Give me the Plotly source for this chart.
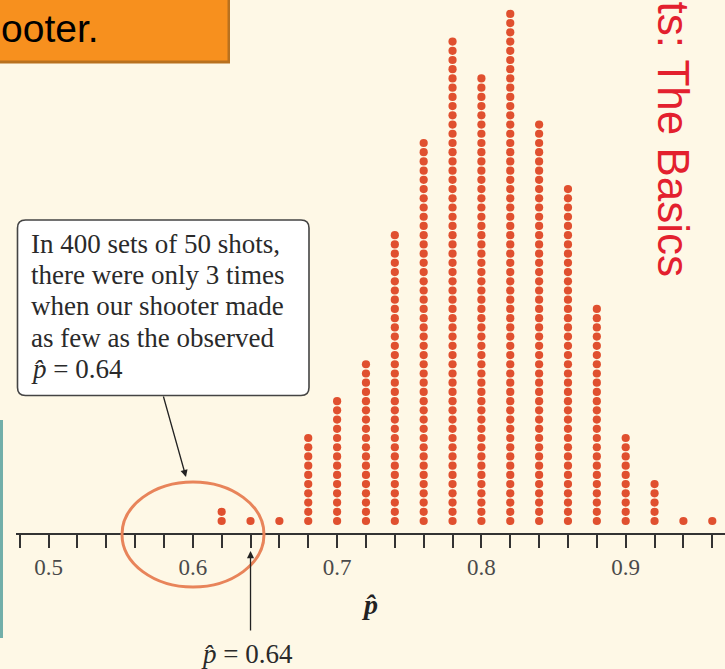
import plotly.graph_objects as go

# ---- data ----
phat_values = [0.62, 0.64, 0.66, 0.68, 0.70, 0.72, 0.74, 0.76, 0.78,
               0.80, 0.82, 0.84, 0.86, 0.88, 0.90, 0.92, 0.94, 0.96]
counts = [2, 1, 1, 10, 14, 18, 32, 42, 53, 49, 56, 44, 37, 24, 10, 5, 1, 1]
label_ticks = [0.5, 0.6, 0.7, 0.8, 0.9]
label_text = ["0.5", "0.6", "0.7", "0.8", "0.9"]
callout_lines = ["In 400 sets of 50 shots,",
                 "there were only 3 times",
                 "when our shooter made",
                 "as few as the observed",
                 "<i>p\u0302</i> = 0.64"]
observed = 0.64

W, H = 725, 669
BG = "#FEF8E6"
DOT = "#E0502F"

def px(x):
    return x / W

def py(y):
    return 1 - y / H

# stack dots
xs, ys = [], []
for v, c in zip(phat_values, counts):
    for k in range(1, c + 1):
        xs.append(v)
        ys.append(k)

fig = go.Figure()
fig.add_trace(go.Scatter(x=xs, y=ys, mode="markers",
                         marker=dict(size=8.2, color=DOT, line=dict(width=0)),
                         hoverinfo="skip", showlegend=False))

spacing = 9.22
bottom_px = 521
ytop = 1 + bottom_px / spacing
ybot = 1 - (H - bottom_px) / spacing

axis_px = 534
fig.update_layout(
    width=W, height=H,
    margin=dict(l=0, r=0, t=0, b=0),
    paper_bgcolor=BG, plot_bgcolor=BG,
    xaxis=dict(domain=[16 / W, 1], range=[0.5 - 32.5 / 1443, 0.5 + 676.5 / 1443],
               anchor="free", position=1 - axis_px / H,
               showgrid=False, zeroline=False, showline=True,
               linecolor="#333333", linewidth=1.5,
               tickvals=label_ticks, ticktext=label_text,
               ticks="outside", ticklen=13, tickwidth=1.5, tickcolor="#333333",
               ticklabelstandoff=0,
               tickfont=dict(family="Liberation Serif", size=23, color="#4a4a4a"),
               minor=dict(tick0=0.48, dtick=0.02, ticks="outside", ticklen=13,
                          tickwidth=1.5, tickcolor="#333333", showgrid=False)),
    yaxis=dict(range=[ybot, ytop], visible=False, showgrid=False, zeroline=False),
)

shapes = []
# teal stripe at left
shapes.append(dict(type="rect", xref="paper", yref="paper",
                   x0=0, x1=px(3), y0=py(638), y1=py(420),
                   fillcolor="#72AFA9", line=dict(width=0), layer="below"))
# orange title box (with darker shadow edge)
shapes.append(dict(type="rect", xref="paper", yref="paper",
                   x0=0, x1=px(230), y0=py(63.5), y1=py(0),
                   fillcolor="#B8711F", line=dict(width=0)))
shapes.append(dict(type="rect", xref="paper", yref="paper",
                   x0=0, x1=px(227.5), y0=py(60.5), y1=py(0),
                   fillcolor="#F7901E", line=dict(width=0)))
# callout rounded box
x0b, x1b, y0b, y1b, r = 17.5, 309, 220, 395.5, 8
path = (f"M {px(x0b + r)},{py(y0b)} L {px(x1b - r)},{py(y0b)} "
        f"Q {px(x1b)},{py(y0b)} {px(x1b)},{py(y0b + r)} "
        f"L {px(x1b)},{py(y1b - r)} Q {px(x1b)},{py(y1b)} {px(x1b - r)},{py(y1b)} "
        f"L {px(x0b + r)},{py(y1b)} Q {px(x0b)},{py(y1b)} {px(x0b)},{py(y1b - r)} "
        f"L {px(x0b)},{py(y0b + r)} Q {px(x0b)},{py(y0b)} {px(x0b + r)},{py(y0b)} Z")
shapes.append(dict(type="path", xref="paper", yref="paper", path=path,
                   fillcolor="#FFFFFF", line=dict(color="#444444", width=1.6)))
# ellipse around the low values
shapes.append(dict(type="circle", xref="paper", yref="paper",
                   x0=px(122), x1=px(264), y0=py(587), y1=py(482),
                   line=dict(color="#E8845A", width=3)))
fig.update_layout(shapes=shapes)

ann = []
# callout text lines
baselines = [252.7, 284, 315.5, 347, 378.5]
for line, b in zip(callout_lines, baselines):
    ann.append(dict(xref="paper", yref="paper", x=px(29), y=py(b - 0.3375 * 27),
                    xanchor="left", yanchor="middle", showarrow=False, text=line,
                    font=dict(family="Liberation Serif", size=27, color="#2a2a2a")))
# callout arrow
ann.append(dict(xref="paper", yref="paper", x=px(186), y=py(477), text="",
                showarrow=True, axref="pixel", ayref="pixel", ax=-23, ay=-82,
                arrowhead=2, arrowsize=1.1, arrowwidth=1.3, arrowcolor="#222222",
                standoff=0, startstandoff=0))
# observed arrow
ann.append(dict(xref="x", yref="paper", x=observed, y=py(551), text="",
                showarrow=True, axref="pixel", ayref="pixel", ax=0, ay=81,
                arrowhead=2, arrowsize=1.1, arrowwidth=1.3, arrowcolor="#222222",
                standoff=0, startstandoff=0))
ann.append(dict(xref="paper", yref="paper", x=px(199), y=py(663 - 0.3375 * 27),
                xanchor="left", yanchor="middle", showarrow=False,
                text="<i>p\u0302</i> = 0.64",
                font=dict(family="Liberation Serif", size=27, color="#2a2a2a")))
# axis title p-hat
ann.append(dict(xref="paper", yref="paper", x=px(370), y=py(604),
                xanchor="center", yanchor="middle", showarrow=False,
                text="<b><i>p\u0302</i></b>",
                font=dict(family="Liberation Serif", size=28, color="#222222")))
# title box text
ann.append(dict(xref="paper", yref="paper", x=px(101), y=py(41.7 - 0.3465 * 39),
                xanchor="right", yanchor="middle", showarrow=False, text="ooter.",
                font=dict(family="Liberation Sans", size=39, color="#000000")))
# vertical red header
ann.append(dict(xref="paper", yref="paper", x=px(673), y=py(139.5),
                xanchor="center", yanchor="middle", showarrow=False,
                text="ts: The Basics", textangle=90,
                font=dict(family="Liberation Sans", size=44, color="#E3202E")))
fig.update_layout(annotations=ann)

fig.write_html("out.html", config={"displayModeBar": False},
               post_script="document.body.style.margin='0';document.body.style.padding='0';")
